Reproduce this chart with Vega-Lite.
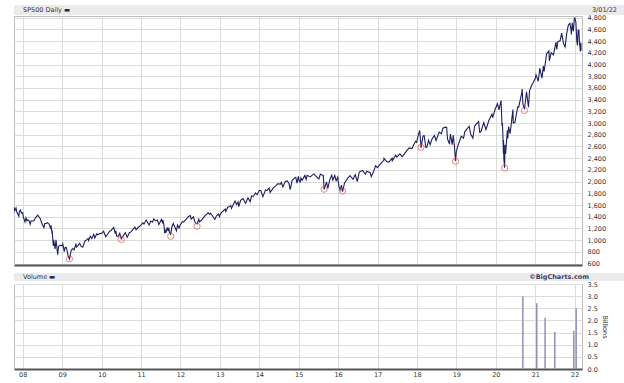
{
  "$schema": "https://vega.github.io/schema/vega-lite/v6.json",
  "background": "white",
  "padding": {"left": 5, "top": 5, "right": 4, "bottom": 1},
  "spacing": -1,
  "config": {
    "font": "DejaVu Sans",
    "axis": {"labelFont": "DejaVu Sans", "labelFontSize": 6.5, "labelColor": "#333333", "gridColor": "#dcdcdc", "gridWidth": 1, "labelFlush": false},
    "text": {"font": "DejaVu Sans", "fontSize": 6.5}
  },
  "datasets": {
    "px": [
      {"d":"2007-10-12","c":1562},{"d":"2007-10-19","c":1501},{"d":"2007-10-31","c":1549},{"d":"2007-11-08","c":1475},{"d":"2007-11-26","c":1407},{"d":"2007-11-30","c":1481},{"d":"2007-12-10","c":1515},{"d":"2007-12-20","c":1463},{"d":"2007-12-31","c":1468},
      {"d":"2008-01-08","c":1390},{"d":"2008-01-22","c":1310},{"d":"2008-01-31","c":1379},{"d":"2008-02-08","c":1331},{"d":"2008-02-14","c":1349},{"d":"2008-02-29","c":1331},{"d":"2008-03-10","c":1273},{"d":"2008-03-18","c":1330},{"d":"2008-03-31","c":1323},{"d":"2008-04-15","c":1334},{"d":"2008-04-30","c":1386},{"d":"2008-05-19","c":1427},{"d":"2008-05-30","c":1400},{"d":"2008-06-13","c":1360},{"d":"2008-06-27","c":1278},{"d":"2008-07-15","c":1215},{"d":"2008-07-23","c":1283},{"d":"2008-08-05","c":1285},{"d":"2008-08-15","c":1298},{"d":"2008-08-29","c":1283},{"d":"2008-09-10","c":1232},{"d":"2008-09-15","c":1193},{"d":"2008-09-19","c":1255},{"d":"2008-09-29","c":1106},{"d":"2008-09-30","c":1166},{"d":"2008-10-10","c":899},{"d":"2008-10-13","c":1003},{"d":"2008-10-27","c":848},{"d":"2008-11-04","c":1006},{"d":"2008-11-20","c":752},{"d":"2008-11-28","c":896},{"d":"2008-12-08","c":909},{"d":"2008-12-16","c":913},{"d":"2008-12-31","c":903},
      {"d":"2009-01-06","c":935},{"d":"2009-01-20","c":805},{"d":"2009-01-28","c":874},{"d":"2009-02-09","c":870},{"d":"2009-02-23","c":743},{"d":"2009-03-09","c":677},{"d":"2009-03-26","c":832},{"d":"2009-04-09","c":856},{"d":"2009-04-20","c":832},{"d":"2009-05-08","c":930},{"d":"2009-05-15","c":882},{"d":"2009-06-12","c":946},{"d":"2009-06-23","c":896},{"d":"2009-07-10","c":879},{"d":"2009-07-31","c":987},{"d":"2009-08-14","c":1005},{"d":"2009-08-28","c":1029},{"d":"2009-09-02","c":995},{"d":"2009-09-18","c":1068},{"d":"2009-10-02","c":1025},{"d":"2009-10-19","c":1098},{"d":"2009-10-30","c":1036},{"d":"2009-11-17","c":1110},{"d":"2009-11-27","c":1091},{"d":"2009-12-14","c":1114},{"d":"2009-12-31","c":1115},
      {"d":"2010-01-19","c":1150},{"d":"2010-02-08","c":1057},{"d":"2010-02-26","c":1105},{"d":"2010-03-15","c":1150},{"d":"2010-03-31","c":1169},{"d":"2010-04-23","c":1217},{"d":"2010-05-07","c":1111},{"d":"2010-05-13","c":1157},{"d":"2010-05-20","c":1071},{"d":"2010-06-04","c":1065},{"d":"2010-06-18","c":1117},{"d":"2010-07-02","c":1022},{"d":"2010-07-16","c":1065},{"d":"2010-08-09","c":1128},{"d":"2010-08-26","c":1047},{"d":"2010-09-15","c":1126},{"d":"2010-09-30","c":1141},{"d":"2010-10-15","c":1176},{"d":"2010-11-05","c":1225},{"d":"2010-11-16","c":1178},{"d":"2010-12-01","c":1207},{"d":"2010-12-31","c":1258},
      {"d":"2011-01-18","c":1295},{"d":"2011-01-28","c":1276},{"d":"2011-02-18","c":1343},{"d":"2011-03-16","c":1257},{"d":"2011-03-31","c":1326},{"d":"2011-04-18","c":1305},{"d":"2011-04-29","c":1364},{"d":"2011-05-16","c":1329},{"d":"2011-05-31","c":1345},{"d":"2011-06-15","c":1266},{"d":"2011-06-30","c":1321},{"d":"2011-07-07","c":1353},{"d":"2011-07-18","c":1305},{"d":"2011-07-22","c":1345},{"d":"2011-08-02","c":1254},{"d":"2011-08-08","c":1119},{"d":"2011-08-12","c":1179},{"d":"2011-08-19","c":1124},{"d":"2011-08-31","c":1219},{"d":"2011-09-09","c":1154},{"d":"2011-09-16","c":1216},{"d":"2011-09-22","c":1129},{"d":"2011-10-03","c":1099},{"d":"2011-10-14","c":1225},{"d":"2011-10-27","c":1285},{"d":"2011-11-09","c":1229},{"d":"2011-11-25","c":1159},{"d":"2011-12-05","c":1257},{"d":"2011-12-19","c":1206},{"d":"2011-12-30","c":1258},
      {"d":"2012-01-19","c":1314},{"d":"2012-01-31","c":1312},{"d":"2012-02-29","c":1366},{"d":"2012-03-16","c":1404},{"d":"2012-04-02","c":1419},{"d":"2012-04-10","c":1358},{"d":"2012-04-30","c":1398},{"d":"2012-05-18","c":1295},{"d":"2012-06-04","c":1278},{"d":"2012-06-19","c":1357},{"d":"2012-06-25","c":1313},{"d":"2012-07-12","c":1335},{"d":"2012-07-31","c":1379},{"d":"2012-08-17","c":1418},{"d":"2012-09-14","c":1466},{"d":"2012-09-28","c":1441},{"d":"2012-10-05","c":1460},{"d":"2012-10-25","c":1412},{"d":"2012-11-15","c":1353},{"d":"2012-11-30","c":1416},{"d":"2012-12-18","c":1447},{"d":"2012-12-28","c":1402},{"d":"2012-12-31","c":1426},
      {"d":"2013-01-15","c":1472},{"d":"2013-01-31","c":1498},{"d":"2013-02-19","c":1531},{"d":"2013-02-25","c":1488},{"d":"2013-03-14","c":1563},{"d":"2013-03-28","c":1569},{"d":"2013-04-11","c":1593},{"d":"2013-04-18","c":1541},{"d":"2013-05-21","c":1669},{"d":"2013-06-05","c":1609},{"d":"2013-06-18","c":1651},{"d":"2013-06-24","c":1573},{"d":"2013-07-12","c":1680},{"d":"2013-08-02","c":1710},{"d":"2013-08-27","c":1630},{"d":"2013-09-18","c":1725},{"d":"2013-10-08","c":1656},{"d":"2013-10-22","c":1754},{"d":"2013-11-07","c":1747},{"d":"2013-11-27","c":1807},{"d":"2013-12-12","c":1775},{"d":"2013-12-31","c":1848},
      {"d":"2014-01-15","c":1848},{"d":"2014-02-03","c":1742},{"d":"2014-02-28","c":1859},{"d":"2014-03-13","c":1846},{"d":"2014-04-02","c":1890},{"d":"2014-04-11","c":1815},{"d":"2014-05-13","c":1897},{"d":"2014-05-30","c":1924},{"d":"2014-06-20","c":1963},{"d":"2014-07-17","c":1958},{"d":"2014-07-24","c":1988},{"d":"2014-08-07","c":1910},{"d":"2014-08-29","c":2003},{"d":"2014-09-18","c":2011},{"d":"2014-10-03","c":1967},{"d":"2014-10-15","c":1862},{"d":"2014-10-31","c":2018},{"d":"2014-11-28","c":2068},{"d":"2014-12-05","c":2075},{"d":"2014-12-16","c":1973},{"d":"2014-12-29","c":2091},
      {"d":"2015-01-06","c":2003},{"d":"2015-01-15","c":1993},{"d":"2015-01-22","c":2063},{"d":"2015-02-02","c":2021},{"d":"2015-02-27","c":2105},{"d":"2015-03-11","c":2040},{"d":"2015-03-20","c":2108},{"d":"2015-04-17","c":2081},{"d":"2015-05-21","c":2131},{"d":"2015-06-29","c":2058},{"d":"2015-07-08","c":2047},{"d":"2015-07-20","c":2128},{"d":"2015-08-17","c":2102},{"d":"2015-08-25","c":1867},{"d":"2015-09-16","c":1996},{"d":"2015-09-28","c":1882},{"d":"2015-10-16","c":2033},{"d":"2015-11-03","c":2109},{"d":"2015-11-13","c":2023},{"d":"2015-12-01","c":2103},{"d":"2015-12-14","c":2012},{"d":"2015-12-29","c":2078},
      {"d":"2016-01-08","c":1922},{"d":"2016-01-20","c":1859},{"d":"2016-02-01","c":1940},{"d":"2016-02-11","c":1829},{"d":"2016-03-01","c":1978},{"d":"2016-03-31","c":2060},{"d":"2016-04-20","c":2102},{"d":"2016-05-19","c":2040},{"d":"2016-06-08","c":2119},{"d":"2016-06-27","c":2001},{"d":"2016-07-15","c":2162},{"d":"2016-08-15","c":2191},{"d":"2016-09-09","c":2128},{"d":"2016-09-22","c":2177},{"d":"2016-10-24","c":2151},{"d":"2016-11-04","c":2085},{"d":"2016-11-30","c":2199},{"d":"2016-12-13","c":2272},{"d":"2016-12-30","c":2239},
      {"d":"2017-01-26","c":2297},{"d":"2017-02-28","c":2364},{"d":"2017-03-01","c":2396},{"d":"2017-03-27","c":2342},{"d":"2017-04-13","c":2329},{"d":"2017-05-16","c":2400},{"d":"2017-05-17","c":2357},{"d":"2017-06-19","c":2453},{"d":"2017-06-29","c":2419},{"d":"2017-07-27","c":2475},{"d":"2017-08-18","c":2426},{"d":"2017-09-20","c":2508},{"d":"2017-10-20","c":2575},{"d":"2017-11-15","c":2565},{"d":"2017-12-18","c":2690},{"d":"2017-12-29","c":2674},
      {"d":"2018-01-12","c":2786},{"d":"2018-01-26","c":2873},{"d":"2018-02-05","c":2649},{"d":"2018-02-08","c":2581},{"d":"2018-02-26","c":2780},{"d":"2018-03-09","c":2786},{"d":"2018-03-23","c":2588},{"d":"2018-04-02","c":2582},{"d":"2018-04-18","c":2708},{"d":"2018-05-03","c":2630},{"d":"2018-05-21","c":2733},{"d":"2018-06-12","c":2787},{"d":"2018-06-27","c":2700},{"d":"2018-07-25","c":2846},{"d":"2018-08-15","c":2818},{"d":"2018-08-29","c":2914},{"d":"2018-09-20","c":2931},{"d":"2018-10-03","c":2925},{"d":"2018-10-11","c":2728},{"d":"2018-10-29","c":2641},{"d":"2018-11-07","c":2814},{"d":"2018-11-23","c":2633},{"d":"2018-12-03","c":2790},{"d":"2018-12-14","c":2600},{"d":"2018-12-24","c":2351},{"d":"2018-12-31","c":2507},
      {"d":"2019-01-15","c":2610},{"d":"2019-02-15","c":2776},{"d":"2019-03-08","c":2743},{"d":"2019-03-21","c":2855},{"d":"2019-04-30","c":2946},{"d":"2019-05-13","c":2812},{"d":"2019-06-03","c":2744},{"d":"2019-06-20","c":2954},{"d":"2019-07-26","c":3026},{"d":"2019-08-05","c":2844},{"d":"2019-08-15","c":2848},{"d":"2019-09-12","c":3009},{"d":"2019-10-02","c":2887},{"d":"2019-10-28","c":3039},{"d":"2019-11-27","c":3153},{"d":"2019-12-03","c":3093},{"d":"2019-12-27","c":3240},
      {"d":"2020-01-17","c":3330},{"d":"2020-01-31","c":3226},{"d":"2020-02-19","c":3386},{"d":"2020-02-28","c":2954},{"d":"2020-03-03","c":3003},{"d":"2020-03-12","c":2481},{"d":"2020-03-13","c":2711},{"d":"2020-03-16","c":2386},{"d":"2020-03-23","c":2237},{"d":"2020-03-26","c":2630},{"d":"2020-04-01","c":2471},{"d":"2020-04-17","c":2875},{"d":"2020-04-21","c":2737},{"d":"2020-04-29","c":2940},{"d":"2020-05-13","c":2820},{"d":"2020-06-08","c":3232},{"d":"2020-06-11","c":3002},{"d":"2020-06-26","c":3009},{"d":"2020-07-22","c":3276},{"d":"2020-07-31","c":3271},{"d":"2020-08-28","c":3508},{"d":"2020-09-02","c":3580},{"d":"2020-09-08","c":3332},{"d":"2020-09-23","c":3237},{"d":"2020-10-12","c":3534},{"d":"2020-10-30","c":3270},{"d":"2020-11-09","c":3550},{"d":"2020-11-27","c":3638},{"d":"2020-12-18","c":3709},{"d":"2020-12-31","c":3756},
      {"d":"2021-01-08","c":3825},{"d":"2021-01-29","c":3714},{"d":"2021-02-12","c":3934},{"d":"2021-03-04","c":3768},{"d":"2021-03-17","c":3974},{"d":"2021-03-24","c":3881},{"d":"2021-04-16","c":4185},{"d":"2021-05-07","c":4232},{"d":"2021-05-12","c":4063},{"d":"2021-05-28","c":4204},{"d":"2021-06-18","c":4166},{"d":"2021-07-12","c":4384},{"d":"2021-07-19","c":4258},{"d":"2021-07-30","c":4395},{"d":"2021-08-19","c":4406},{"d":"2021-09-02","c":4537},{"d":"2021-09-20","c":4358},{"d":"2021-10-04","c":4300},{"d":"2021-10-21","c":4549},{"d":"2021-11-04","c":4680},{"d":"2021-11-18","c":4705},{"d":"2021-11-30","c":4567},{"d":"2021-12-01","c":4513},{"d":"2021-12-10","c":4712},{"d":"2021-12-20","c":4568},{"d":"2021-12-29","c":4793},
      {"d":"2022-01-03","c":4797},{"d":"2022-01-12","c":4726},{"d":"2022-01-21","c":4398},{"d":"2022-01-27","c":4326},{"d":"2022-02-02","c":4589},{"d":"2022-02-09","c":4587},{"d":"2022-02-14","c":4401},{"d":"2022-02-23","c":4225},{"d":"2022-02-24","c":4288},{"d":"2022-02-28","c":4374},{"d":"2022-03-01","c":4240}
    ],
    "lows": [
      {"d":"2009-03-09","c":680},{"d":"2010-07-02","c":1012},{"d":"2011-10-03","c":1066},{"d":"2012-06-04","c":1237},{"d":"2015-08-25","c":1870},{"d":"2016-02-11","c":1840},{"d":"2018-02-08","c":2586},{"d":"2018-12-24","c":2347},{"d":"2020-03-23","c":2234},{"d":"2020-09-23","c":3217}
    ],
    "vol": [
      {"d":"2020-09-08","v":3.0},{"d":"2021-01-15","v":2.71},{"d":"2021-04-02","v":2.11},{"d":"2021-07-01","v":1.52},{"d":"2021-12-24","v":1.57},{"d":"2022-01-15","v":2.49}
    ],
    "h1": [{"t":"SP500 Daily","p":"a"}],
    "h1r": [{"t":"3/01/22","p":"b"}],
    "h2": [{"t":"Volume","p":"a"}],
    "h2r": [{"t":"©BigCharts.com","p":"b"}]
  },
  "vconcat": [
    {
      "width": 615, "height": 10,
      "view": {"fill": "#ebebeb", "stroke": null},
      "layer": [
        {"data": {"name": "h1"}, "mark": {"type": "text", "align": "left", "baseline": "middle", "dx": 9, "color": "#333333"},
         "encoding": {"x": {"field": "p", "type": "nominal", "scale": {"type": "point", "domain": ["a", "b"], "padding": 0}, "axis": null}, "text": {"field": "t"}}},
        {"data": {"name": "h1"}, "mark": {"type": "text", "align": "left", "baseline": "middle", "dx": 50, "color": "#1f1f5f", "text": "▬"},
         "encoding": {"x": {"field": "p", "type": "nominal", "scale": {"type": "point", "domain": ["a", "b"], "padding": 0}, "axis": null}}},
        {"data": {"name": "h1r"}, "mark": {"type": "text", "align": "right", "baseline": "middle", "dx": -12, "color": "#333333"},
         "encoding": {"x": {"field": "p", "type": "nominal", "scale": {"type": "point", "domain": ["a", "b"], "padding": 0}, "axis": null}, "text": {"field": "t"}}}
      ]
    },
    {
      "width": 568, "height": 249,
      "view": {"fill": "white", "stroke": "#bdbdbd"},
      "resolve": {"axis": {"y": "independent"}},
      "layer": [
        {
          "data": {"name": "px"},
          "mark": {"type": "line", "color": "#1f1f5f", "strokeWidth": 1.1, "clip": true},
          "encoding": {
            "x": {"field": "d", "type": "temporal",
              "scale": {"domain": [{"year": 2007, "month": 10, "date": 12}, {"year": 2022, "month": 3, "date": 10}]},
              "axis": {"orient": "bottom", "title": null, "labels": false, "grid": true, "ticks": true, "tickColor": "white", "tickSize": 7, "domain": true, "domainColor": "#555555", "domainWidth": 2,
                "values": [{"year":2008,"month":1,"date":1},{"year":2009,"month":1,"date":1},{"year":2010,"month":1,"date":1},{"year":2011,"month":1,"date":1},{"year":2012,"month":1,"date":1},{"year":2013,"month":1,"date":1},{"year":2014,"month":1,"date":1},{"year":2015,"month":1,"date":1},{"year":2016,"month":1,"date":1},{"year":2017,"month":1,"date":1},{"year":2018,"month":1,"date":1},{"year":2019,"month":1,"date":1},{"year":2020,"month":1,"date":1},{"year":2021,"month":1,"date":1},{"year":2022,"month":1,"date":1}]}},
            "y": {"field": "c", "type": "quantitative",
              "scale": {"domain": [575, 4830], "nice": false, "zero": false},
              "axis": {"orient": "right", "title": null, "grid": true, "ticks": false, "tickSize": 0, "domain": false, "labelPadding": 5, "format": ",.0f",
                "values": [600,800,1000,1200,1400,1600,1800,2000,2200,2400,2600,2800,3000,3200,3400,3600,3800,4000,4200,4400,4600,4800]}}
          }
        },
        {
          "data": {"name": "lows"},
          "mark": {"type": "point", "shape": "circle", "filled": false, "color": "#ea4b4b", "size": 38, "strokeWidth": 1},
          "encoding": {
            "x": {"field": "d", "type": "temporal"},
            "y": {"field": "c", "type": "quantitative",
              "axis": {"orient": "left", "title": null, "labels": false, "grid": false, "domain": false, "ticks": true, "tickColor": "white", "tickSize": 8, "values": [600, 4800]}}
          }
        }
      ]
    },
    {
      "width": 615, "height": 8,
      "view": {"fill": "#ebebeb", "stroke": null},
      "layer": [
        {"data": {"name": "h2"}, "mark": {"type": "text", "align": "left", "baseline": "middle", "dx": 9, "color": "#333333"},
         "encoding": {"x": {"field": "p", "type": "nominal", "scale": {"type": "point", "domain": ["a", "b"], "padding": 0}, "axis": null}, "text": {"field": "t"}}},
        {"data": {"name": "h2"}, "mark": {"type": "text", "align": "left", "baseline": "middle", "dx": 35, "color": "#1f1f5f", "text": "▬"},
         "encoding": {"x": {"field": "p", "type": "nominal", "scale": {"type": "point", "domain": ["a", "b"], "padding": 0}, "axis": null}}},
        {"data": {"name": "h2r"}, "mark": {"type": "text", "align": "right", "baseline": "middle", "dx": -40, "color": "#3f3f63", "fontWeight": "bold"},
         "encoding": {"x": {"field": "p", "type": "nominal", "scale": {"type": "point", "domain": ["a", "b"], "padding": 0}, "axis": null}, "text": {"field": "t"}}}
      ]
    },
    {
      "width": 568, "height": 85,
      "view": {"fill": "white", "stroke": "#bdbdbd"},
      "resolve": {"axis": {"y": "independent"}},
      "layer": [
        {
          "data": {"name": "vol"},
          "mark": {"type": "rule", "color": "#9090b8", "strokeWidth": 1.5},
          "encoding": {
            "x": {"field": "d", "type": "temporal",
              "scale": {"domain": [{"year": 2007, "month": 10, "date": 12}, {"year": 2022, "month": 3, "date": 10}]},
              "axis": {"orient": "bottom", "title": null, "format": "%y", "formatType": "time", "grid": true, "ticks": false, "tickSize": 0, "labelPadding": 2, "domain": true, "domainColor": "#555555", "domainWidth": 2,
                "values": [{"year":2008,"month":1,"date":1},{"year":2009,"month":1,"date":1},{"year":2010,"month":1,"date":1},{"year":2011,"month":1,"date":1},{"year":2012,"month":1,"date":1},{"year":2013,"month":1,"date":1},{"year":2014,"month":1,"date":1},{"year":2015,"month":1,"date":1},{"year":2016,"month":1,"date":1},{"year":2017,"month":1,"date":1},{"year":2018,"month":1,"date":1},{"year":2019,"month":1,"date":1},{"year":2020,"month":1,"date":1},{"year":2021,"month":1,"date":1},{"year":2022,"month":1,"date":1}]}},
            "y": {"field": "v", "type": "quantitative",
              "scale": {"domain": [0, 3.5], "nice": false},
              "axis": {"orient": "right", "title": "Billions", "titleFontSize": 6.5, "titleFontWeight": "normal", "titleColor": "#333333", "titlePadding": 4, "grid": true, "ticks": false, "tickSize": 0, "domain": false, "labelPadding": 5, "format": ".1f",
                "values": [0, 0.5, 1, 1.5, 2, 2.5, 3, 3.5]}},
            "y2": {"datum": 0}
          }
        },
        {
          "data": {"name": "vol"},
          "mark": {"type": "point", "opacity": 0},
          "encoding": {
            "x": {"field": "d", "type": "temporal"},
            "y": {"field": "v", "type": "quantitative",
              "axis": {"orient": "left", "title": null, "labels": false, "grid": false, "domain": false, "ticks": true, "tickColor": "white", "tickSize": 8, "values": [0, 3.5]}}
          }
        }
      ]
    }
  ]
}
